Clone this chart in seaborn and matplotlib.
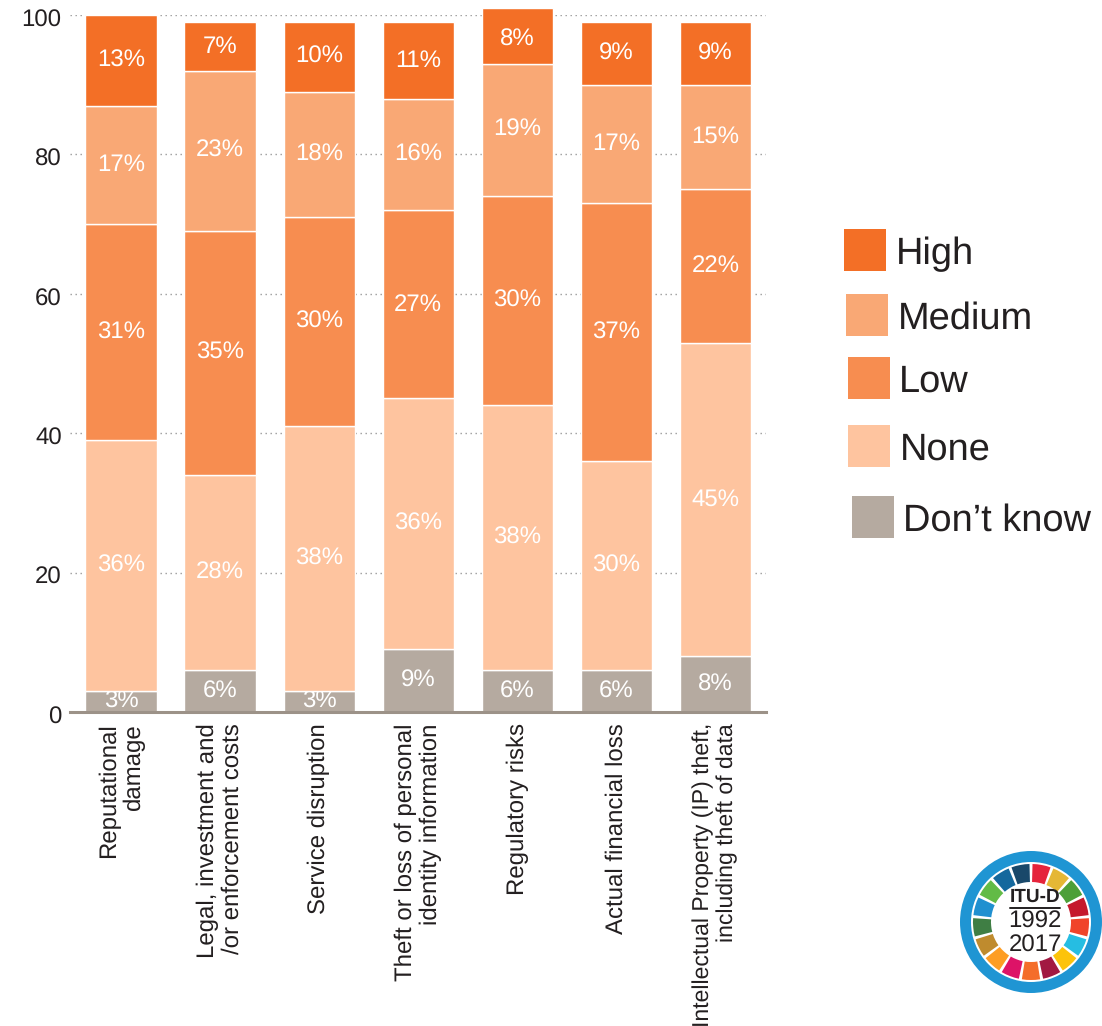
import matplotlib
matplotlib.use("Agg")
import matplotlib.pyplot as plt
from matplotlib.patches import Circle, Rectangle, Wedge
from matplotlib.transforms import ScaledTranslation
import seaborn as sns

categories = [
    "Reputational\ndamage",
    "Legal, investment and\n/or enforcement costs",
    "Service disruption",
    "Theft or loss of personal\nidentity information",
    "Regulatory risks",
    "Actual financial loss",
    "Intellectual Property (IP) theft,\nincluding theft of data",
]
dont_know = [3, 6, 3, 9, 6, 6, 8]
none = [36, 28, 38, 36, 38, 30, 45]
low = [31, 35, 30, 27, 30, 37, 22]
medium = [17, 23, 18, 16, 19, 17, 15]
high = [13, 7, 10, 11, 8, 9, 9]

series_names = ["Don\u2019t know", "None", "Low", "Medium", "High"]
series_values = [dont_know, none, low, medium, high]
series_colors = ["#b5aaa0", "#fec49f", "#f78d50", "#f9a875", "#f36f26"]
y_ticks = [0, 20, 40, 60, 80, 100]
sdg_colors = [
    "#e5243b", "#e5b735", "#4c9f38", "#c5192d", "#f0442a", "#26bde2",
    "#fcc30b", "#a21942", "#f46d2a", "#dd1367", "#fd9d24", "#bf8b2e",
    "#3f7e44", "#2090d0", "#62bb46", "#14689d", "#19486a",
]

W, H = 1102, 1026
TEXT = "#231f20"

sns.set_theme(style="white")
plt.rcParams["font.family"] = ["Liberation Sans", "DejaVu Sans"]
plt.rcParams["text.hinting"] = "no_hinting"
plt.rcParams["text.hinting_factor"] = 1

fig = plt.figure(figsize=(W / 100, H / 100), dpi=100, facecolor="white")


def px_box(x0, y0, x1, y1):
    """Figure-fraction rectangle from pixel edges measured from the top left."""
    return [x0 / W, 1 - y1 / H, (x1 - x0) / W, (y1 - y0) / H]


ax = fig.add_axes(px_box(70, 15, 766, 712))

# Stacked columns, one layer per response
bottom = [0] * len(categories)
for name, values, color in zip(series_names, series_values, series_colors):
    sns.barplot(
        x=categories, y=values, bottom=bottom, color=color, saturation=1,
        width=0.72, edgecolor="white", linewidth=1, ax=ax, zorder=3,
        clip_on=False,
    )
    ax.bar_label(
        ax.containers[-1], fmt="%d%%", label_type="center",
        color="white", fontsize=17.2,
    )
    bottom = [b + v for b, v in zip(bottom, values)]

ax.set_xlim(-0.515, 6.51)
ax.set_ylim(0, 100)
ax.set_yticks(y_ticks)
ax.set_xlabel("")
ax.set_ylabel("")
ax.tick_params(axis="y", length=0, pad=6, labelsize=17.2, labelcolor=TEXT)
ax.tick_params(axis="x", length=0, pad=8)
ax.set_xticks(range(len(categories)))
ax.set_xticklabels(
    categories, rotation=90, ha="center", va="top", ma="right",
    fontsize=17.4, color=TEXT, linespacing=1.15,
)
# The longest caption is set a touch smaller so it stays on the canvas
ax.get_xticklabels()[-1].set_fontsize(16.4)

# Value labels sit slightly under their gridlines
nudge = ScaledTranslation(0, -2 / 72, fig.dpi_scale_trans)
for tick_label in ax.get_yticklabels():
    tick_label.set_transform(tick_label.get_transform() + nudge)

ax.yaxis.grid(True, linestyle=(0, (1, 2.6)), color="#9a9a9a", linewidth=1)
ax.set_axisbelow(True)
for side in ("top", "left", "right"):
    ax.spines[side].set_visible(False)
ax.spines["bottom"].set_color("#9c9288")
ax.spines["bottom"].set_linewidth(2.2)
ax.spines["bottom"].set_zorder(4)

# Hand-placed key to the right of the columns
key_rows = [
    ("High", "#f36f26", 844, 229, 896),
    ("Medium", "#f9a875", 846, 294, 898),
    ("Low", "#f78d50", 848, 357, 899),
    ("None", "#fec49f", 848, 425, 900),
    ("Don\u2019t know", "#b5aaa0", 852, 496, 903),
]
for label, color, sx, sy, tx in key_rows:
    fig.add_artist(Rectangle(
        (sx / W, 1 - (sy + 42) / H), 42 / W, 42 / H,
        transform=fig.transFigure, facecolor=color, edgecolor="none",
    ))
    fig.text(tx / W, 1 - (sy + 21) / H, label, fontsize=27.3, color=TEXT,
             ha="left", va="center_baseline")

# Anniversary badge in the lower right corner
cx, cy, half = 1031, 922, 76
badge = fig.add_axes(px_box(cx - half, cy - half, cx + half, cy + half))
badge.set_xlim(-half, half)
badge.set_ylim(-half, half)
badge.set_aspect("equal")
badge.axis("off")
badge.add_patch(Circle((0, 0), 71, facecolor="#1f95d3", edgecolor="none"))
badge.add_patch(Circle((0, 0), 60, facecolor="white", edgecolor="none"))
step = 360 / len(sdg_colors)
for i, color in enumerate(sdg_colors):
    badge.add_patch(Wedge(
        (0, 0), 58, 90 - step * (i + 1) + 1.5, 90 - step * i - 1.5, width=18,
        facecolor=color, edgecolor="none",
    ))
badge.text(4, 25, "ITU-D", fontsize=13.5, fontweight="bold", color=TEXT,
           ha="center", va="center")
badge.plot([-21, 29], [14, 14], color=TEXT, linewidth=1.4)
badge.text(4, 0, "1992", fontsize=17, color=TEXT, ha="center", va="center")
badge.text(4, -24, "2017", fontsize=17, color=TEXT, ha="center", va="center")

fig.savefig("out.png", dpi=100)
